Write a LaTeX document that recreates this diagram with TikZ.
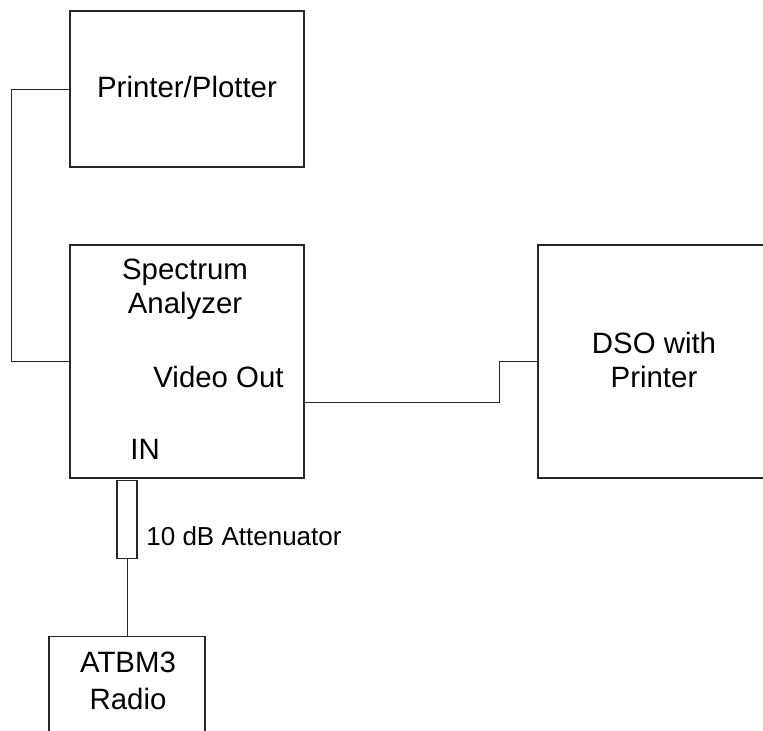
\documentclass[tikz,border=0pt]{standalone}
\usepackage{fontspec}
\setmainfont{Liberation Sans}
\usetikzlibrary{positioning}

\begin{document}
\begin{tikzpicture}[x=0.5pt, y=-0.5pt,
    box/.style={draw=black!85, line width=0.65pt, inner sep=0pt},
    lbl/.style={inner sep=0pt, align=center, font=\fontsize{14.7}{17}\selectfont},
    wire/.style={draw=black!85, line width=0.5pt}]
        \clip (0,0) rectangle (763,730);

        % boxes
        \node[box, minimum width=117pt, minimum height=78pt] (printer) at (187,89) {};
        \node[box, minimum width=117pt, minimum height=116.5pt] (spec) at (187,361.5) {};
        \node[box, minimum width=116pt, minimum height=116.5pt] (dso) at (654,361.5) {};
        \node[box, minimum width=10pt, minimum height=39pt, anchor=north] (att) at (127,480) {};
        \node[box, minimum width=78pt, minimum height=75pt, anchor=north] (radio) at (127,636) {};

        % texts
        \node[lbl, anchor=base] (printertxt) at (187,97) {Printer/Plotter};
        \node[lbl, anchor=north] (spectxt) at (185,259) {Spectrum\\Analyzer};
        \node[lbl, anchor=base] (vidtxt) at (218.5,387) {Video Out};
        \node[lbl, anchor=base west] (intxt) at (130,459) {IN};
        \node[lbl] (dsotxt) at (654,359.5) {DSO with\\Printer};
        \node[lbl, anchor=north, font=\fontsize{14.7}{18.5}\selectfont] (radiotxt) at (128,652) {ATBM3\\Radio};
        \node[lbl, anchor=base west, font=\fontsize{13}{15}\selectfont] (atttxt) at (146,545) {10 dB Attenuator};

        % wires
        \coordinate (vidout) at (spec.east |- 0,402);
        \draw[wire] (printer.west) -- ++(-58,0) |- (spec.west);
        \draw[wire] (vidout) -- ++(195,0) |- (dso.west);
        \draw[wire] (att) -- (radio);

    \end{tikzpicture}
\end{document}
